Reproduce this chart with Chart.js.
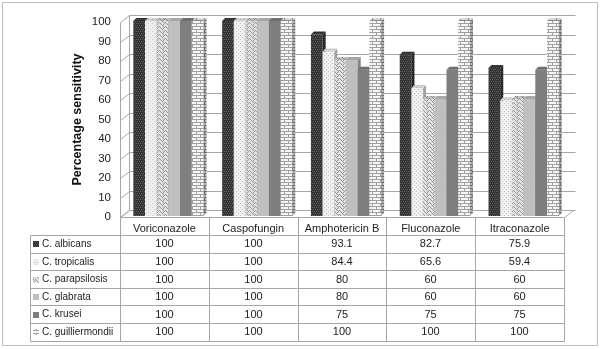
<!DOCTYPE html>
<html lang="en">
<head>
  <meta charset="UTF-8">
  <title>Percentage sensitivity</title>
  <script src="https://cdn.jsdelivr.net/npm/chart.js"></script>
  <style>
    body {margin: 0; background: #fff;}
    #wrap {position: relative; width: 600px; height: 349px;}
  </style>
</head>
<body>
<div id="wrap"><canvas id="chart" width="600" height="349"></canvas></div>

<script>
  const drugs = ['Voriconazole', 'Caspofungin', 'Amphotericin B', 'Fluconazole', 'Itraconazole'];
  const species = ['C. albicans', 'C. tropicalis', 'C. parapsilosis', 'C. glabrata', 'C. krusei', 'C. guilliermondii'];
  const albicans = [100, 100, 93.1, 82.7, 75.9];
  const tropicalis = [100, 100, 84.4, 65.6, 59.4];
  const parapsilosis = [100, 100, 80, 60, 60];
  const glabrata = [100, 100, 80, 60, 60];
  const krusei = [100, 100, 75, 75, 75];
  const guilliermondii = [100, 100, 100, 100, 100];
  const yTicks = [0, 10, 20, 30, 40, 50, 60, 70, 80, 90, 100];

  const seriesValues = [albicans, tropicalis, parapsilosis, glabrata, krusei, guilliermondii];

  // small tiled fills, one per species
  function makePattern(kind) {
    const c = document.createElement('canvas');
    const x = c.getContext('2d');
    if (kind === 'albicans') {
      c.width = 4; c.height = 4;
      x.fillStyle = '#333'; x.fillRect(0, 0, 4, 4);
      x.fillStyle = '#5e5e5e';
      x.fillRect(0, 0, 1, 1); x.fillRect(2, 0, 1, 1);
      x.fillRect(1, 2, 1, 1); x.fillRect(3, 2, 1, 1);
    } else if (kind === 'tropicalis') {
      c.width = 4; c.height = 4;
      x.fillStyle = '#f0f0f0'; x.fillRect(0, 0, 4, 4);
      x.fillStyle = '#c4c4c4';
      x.fillRect(0, 0, 1, 1); x.fillRect(2, 2, 1, 1);
    } else if (kind === 'parapsilosis') {
      c.width = 6; c.height = 4;
      x.fillStyle = '#e0e0e0'; x.fillRect(0, 0, 6, 4);
      x.fillStyle = '#9a9a9a';
      x.fillRect(0, 0, 1, 1); x.fillRect(1, 1, 1, 1); x.fillRect(2, 2, 1, 1);
      x.fillRect(3, 1, 1, 1); x.fillRect(4, 0, 1, 1); x.fillRect(5, 3, 1, 1);
      x.fillRect(3, 3, 1, 1);
    } else if (kind === 'guilliermondii') {
      c.width = 8; c.height = 6;
      x.fillStyle = '#f6f6f6'; x.fillRect(0, 0, 8, 6);
      x.fillStyle = '#a0a0a0';
      x.fillRect(0, 0, 8, 1); x.fillRect(0, 3, 8, 1);
      x.fillRect(0, 1, 1, 2); x.fillRect(4, 4, 1, 2);
    }
    return x.createPattern(c, 'repeat');
  }

  const fills = [
    makePattern('albicans'),
    makePattern('tropicalis'),
    makePattern('parapsilosis'),
    '#bfbfbf',
    '#7f7f7f',
    makePattern('guilliermondii')
  ];

  const DEPTH_X = 9, DEPTH_Y = -7;   // back wall offset
  const BAR_X = 4, BAR_Y = -1;       // bars sit half-way into the depth
  const FACE_X = 3, FACE_Y = -3;     // bar side/top thickness
  const GRID = '#a6a6a6';
  const FONT = '"Liberation Sans", Arial, sans-serif';

  function poly(ctx, pts, fill, stroke) {
    ctx.beginPath();
    ctx.moveTo(pts[0][0], pts[0][1]);
    for (let i = 1; i < pts.length; i++) ctx.lineTo(pts[i][0], pts[i][1]);
    ctx.closePath();
    if (fill) { ctx.fillStyle = fill; ctx.fill(); }
    if (stroke) { ctx.strokeStyle = stroke; ctx.lineWidth = 1; ctx.stroke(); }
  }

  const box3d = {
    id: 'box3d',
    beforeDatasetsDraw(chart) {
      const ctx = chart.ctx;
      const ys = chart.scales.y, xs = chart.scales.x;
      const L = chart.chartArea.left, R = chart.chartArea.right;
      const B = ys.getPixelForValue(0);
      ctx.save();
      ctx.translate(0.5, 0.5);
      // floor
      poly(ctx, [[L, B], [R, B], [R + DEPTH_X, B + DEPTH_Y], [L + DEPTH_X, B + DEPTH_Y]], '#fff', GRID);
      // left wall + back wall grid
      ctx.strokeStyle = GRID; ctx.lineWidth = 1;
      yTicks.forEach(v => {
        const y = Math.round(ys.getPixelForValue(v));
        ctx.beginPath();
        ctx.moveTo(L, y); ctx.lineTo(L + DEPTH_X, y + DEPTH_Y);
        ctx.lineTo(R + DEPTH_X + 2, y + DEPTH_Y);
        ctx.stroke();
      });
      const top = Math.round(ys.getPixelForValue(100));
      ctx.beginPath();
      ctx.moveTo(L, B); ctx.lineTo(L, top);
      ctx.moveTo(L + DEPTH_X, B + DEPTH_Y); ctx.lineTo(L + DEPTH_X, top + DEPTH_Y);
      ctx.stroke();
      ctx.restore();

      // bars, left to right so each front face covers the neighbour's side
      ctx.save();
      ctx.translate(BAR_X, BAR_Y);
      const n = xs.ticks.length;
      for (let j = 0; j < n; j++) {
        for (let i = 0; i < chart.data.datasets.length; i++) {
          const bar = chart.getDatasetMeta(i).data[j];
          const { x, y, base, width } = bar.getProps(['x', 'y', 'base', 'width'], true);
          const l = x - width / 2, r = x + width / 2;
          poly(ctx, [[l, y], [r, y], [r, base], [l, base]], fills[i]);
          poly(ctx, [[r, y], [r + FACE_X, y + FACE_Y], [r + FACE_X, base + FACE_Y], [r, base]], fills[i]);
          poly(ctx, [[r, y], [r + FACE_X, y + FACE_Y], [r + FACE_X, base + FACE_Y], [r, base]], 'rgba(0,0,0,0.3)');
          poly(ctx, [[l, y], [l + FACE_X, y + FACE_Y], [r + FACE_X, y + FACE_Y], [r, y]], fills[i]);
          poly(ctx, [[l, y], [l + FACE_X, y + FACE_Y], [r + FACE_X, y + FACE_Y], [r, y]], 'rgba(0,0,0,0.12)');
        }
      }
      ctx.restore();
      return false;
    },
    afterDraw(chart) {
      // data table under the category labels
      const ctx = chart.ctx;
      const xs = chart.scales.x;
      const B = Math.round(chart.scales.y.getPixelForValue(0));
      const step = xs.getPixelForValue(1) - xs.getPixelForValue(0);
      const edges = [];
      for (let j = 0; j <= drugs.length; j++) edges.push(Math.round(xs.getPixelForValue(0) - step / 2 + j * step));
      const tLeft = 30, rowTop = 235, rowH = 17.6;
      const tBottom = Math.round(rowTop + rowH * species.length);
      ctx.save();
      ctx.translate(0.5, 0.5);
      ctx.strokeStyle = GRID; ctx.lineWidth = 1;
      ctx.beginPath();
      edges.forEach(e => { ctx.moveTo(e, B); ctx.lineTo(e, tBottom); });
      ctx.moveTo(tLeft, rowTop); ctx.lineTo(tLeft, tBottom);
      for (let k = 0; k <= species.length; k++) {
        const y = Math.round(rowTop + rowH * k);
        ctx.moveTo(tLeft, y); ctx.lineTo(edges[edges.length - 1], y);
      }
      ctx.stroke();
      ctx.restore();

      ctx.save();
      ctx.fillStyle = '#222';
      ctx.textBaseline = 'middle';
      species.forEach((name, i) => {
        const cy = rowTop + rowH * i + rowH / 2 + 0.5;
        ctx.fillStyle = fills[i];
        ctx.fillRect(33, Math.round(cy) - 3, 6, 6);
        ctx.fillStyle = '#222';
        ctx.textAlign = 'left';
        ctx.font = '10px ' + FONT;
        ctx.fillText(name, 42, cy);
        ctx.textAlign = 'center';
        ctx.font = '11px ' + FONT;
        seriesValues[i].forEach((v, j) => {
          ctx.fillText(String(v), (edges[j] + edges[j + 1]) / 2, cy);
        });
      });
      ctx.restore();

      // outer frame
      ctx.save();
      ctx.strokeStyle = '#bdbdbd';
      ctx.strokeRect(2.5, 2.5, 595, 343);
      ctx.restore();
    }
  };

  new Chart(document.getElementById('chart'), {
    type: 'bar',
    data: {
      labels: drugs,
      datasets: species.map((name, i) => ({
        label: name,
        data: seriesValues[i],
        backgroundColor: fills[i],
        borderWidth: 0
      }))
    },
    options: {
      responsive: false,
      animation: false,
      events: [],
      layout: { padding: { top: 22, right: 36, left: 0, bottom: 0 } },
      datasets: { bar: { categoryPercentage: 0.79, barPercentage: 1.0 } },
      plugins: { legend: { display: false }, tooltip: { enabled: false } },
      scales: {
        x: {
          grid: { display: false, drawTicks: false },
          border: { display: false },
          ticks: {
            color: '#222',
            padding: 5,
            maxRotation: 0,
            font: { family: FONT, size: 11 }
          },
          afterFit(scale) { scale.height = 132; }
        },
        y: {
          min: 0, max: 100,
          afterBuildTicks(scale) { scale.ticks = yTicks.map(v => ({ value: v })); },
          grid: { display: false, drawTicks: false },
          border: { display: false },
          ticks: {
            color: '#222',
            padding: 9,
            font: { family: FONT, size: 11.5 }
          },
          title: {
            display: true,
            text: 'Percentage sensitivity',
            color: '#111',
            padding: { top: 70, bottom: 0 },
            font: { family: FONT, size: 12.5, weight: 'bold' }
          },
          afterFit(scale) { scale.width = 120; }
        }
      }
    },
    plugins: [box3d]
  });
</script>
</body>
</html>
